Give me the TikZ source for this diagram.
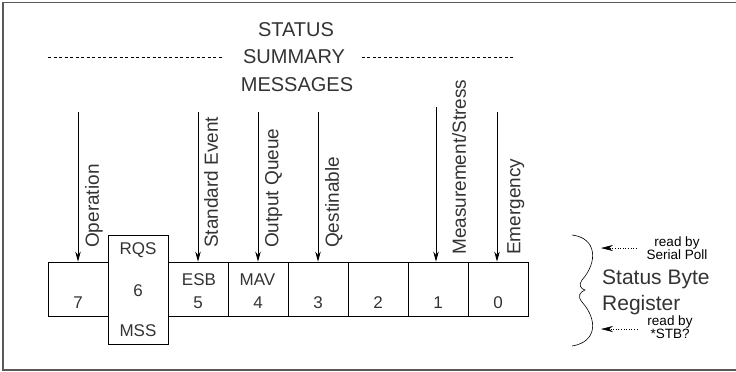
\documentclass[tikz,border=0pt]{standalone}
\usepackage{fontspec}
\setmainfont{Liberation Sans}
\usetikzlibrary{arrows.meta}

\tikzset{
  bitbox/.style={draw, line width=0.8pt, minimum width=60pt, minimum height=54pt, inner sep=0pt},
  bittext/.style={inner sep=0pt, text=black!80, font=\fontsize{17}{19}\selectfont},
  titletext/.style={inner sep=0pt, text=black!80, font=\fontsize{20}{22}\selectfont},
  msgarrow/.style={line width=0.8pt, -{Stealth[length=10pt,width=5.5pt]}},
  msglabel/.style={rotate=90, anchor=north west, inner sep=0pt, text=black!80, font=\fontsize{19}{21}\selectfont},
  regtext/.style={anchor=west, inner sep=0pt, text=black!80, font=\fontsize{21}{23}\selectfont},
  readnote/.style={align=center, inner sep=0pt, font=\fontsize{13.5}{10.5}\selectfont},
  readarrow/.style={line width=0.6pt, dotted, shorten <=10pt, -{Stealth[length=12pt,width=6pt]}},
}

\begin{document}
\begin{tikzpicture}[x=1pt, y=-1pt]
\useasboundingbox (0,0) rectangle (736,372);
% outer frame
\draw[black!65, line width=1.5pt] (3,2.5) rectangle (738,370);

% title
\node[titletext] (status) at (296,30) {STATUS};
\node[titletext] (summary) at (294,57) {SUMMARY};
\node[titletext] (messages) at (297,85) {MESSAGES};
\coordinate (dashL) at (48,57);
\coordinate (dashR) at (513,57);
\draw[dash pattern=on 3pt off 2.5pt, line width=0.6pt, shorten >=20pt] (dashL) -- (summary.west);
\draw[dash pattern=on 3pt off 2.5pt, line width=0.6pt, shorten >=17pt] (dashR) -- (summary.east);

% status byte register
\foreach \bit/\x in {7/78, 5/198, 4/258, 3/318, 2/378, 1/438, 0/498}{
  \node[bitbox] (b\bit) at (\x,289) {};
  \node[bittext] (n\bit) at (\x,302.5) {\bit};
}
\node[bitbox, minimum height=109pt] (b6) at (138,289.5) {};
\node[bittext] (rqs) at (138,250) {RQS};
\node[bittext] (n6) at (138,291) {6};
\node[bittext] (mss) at (138,331) {MSS};
\node[bittext] (esb) at (199,280) {ESB};
\node[bittext] (mav) at (257.5,280) {MAV};

% summary messages
\coordinate (opTop) at (78,112);
\coordinate (seTop) at (198,112);
\coordinate (oqTop) at (258,112);
\coordinate (qsTop) at (318,112);
\coordinate (msTop) at (436,107);
\coordinate (emTop) at (497,112);
\draw[msgarrow] (opTop) -- (b7.north);
\draw[msgarrow] (seTop) -- (b5.north);
\draw[msgarrow] (oqTop) -- (b4.north);
\draw[msgarrow] (qsTop) -- (b3.north);
\draw[msgarrow] (msTop) -- (msTop |- b1.north);
\draw[msgarrow] (emTop) -- (emTop |- b0.north);
\node[msglabel] (op) at (85,248) {Operation};
\node[msglabel] (se) at (204,248) {Standard Event};
\node[msglabel] (oq) at (265,248) {Output Queue};
\node[msglabel] (qs) at (325,248) {Qestinable};
\node[msglabel] (ms) at (452,255) {Measurement/Stress};
\node[msglabel] (em) at (507,255) {Emergency};

% brace and register name
\draw[line width=0.6pt] (572,235) .. controls (597,238) and (598,262) .. (582,280)
  .. controls (578,285) and (581,289) .. (585,290)
  .. controls (580,292) and (577,296) .. (582,302)
  .. controls (598,320) and (597,342) .. (572,346);
\node[regtext] (sbyte) at (602,279) {Status Byte};
\node[regtext] (sreg) at (602,305) {Register};

% read notes
\node[readnote] (poll) at (677,248) {read by\\Serial Poll};
\node[readnote] (stb) at (670,327) {read by\\*STB?};
\coordinate (pollTip) at (601,248);
\coordinate (stbTip) at (601,329);
\draw[readarrow] (poll.west) -- (pollTip);
\draw[readarrow] (stb.west |- stbTip) -- (stbTip);
\end{tikzpicture}
\end{document}
